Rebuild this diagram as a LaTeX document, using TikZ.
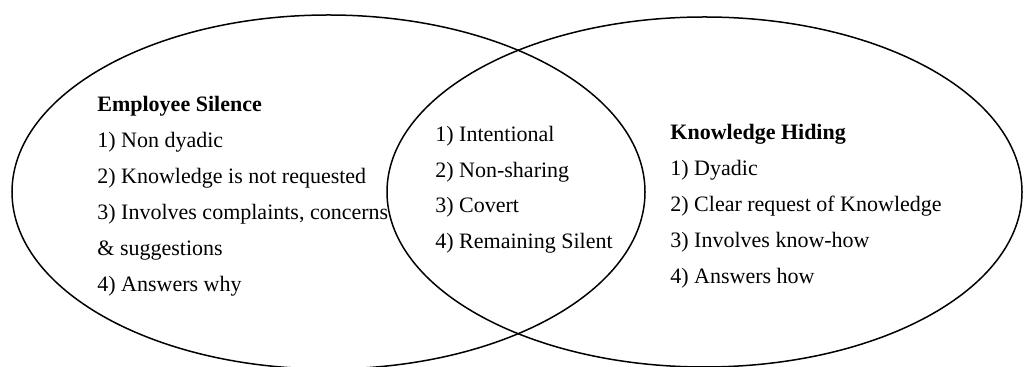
\documentclass[tikz,border=0pt]{standalone}
\usepackage{fontspec}
\setmainfont{Liberation Serif}
\begin{document}
\begin{tikzpicture}[x=0.5pt,y=-0.5pt,
  txt/.style={anchor=base west,inner sep=0pt,font=\fontsize{11}{13}\selectfont},
  hd/.style={txt,font=\fontsize{11}{13}\selectfont\bfseries},
  ring/.style={draw=black,line width=0.75pt}]
\useasboundingbox (0,0) rectangle (1033,367);
\draw[ring] (328.5,192) ellipse [x radius=316.5, y radius=177];
\draw[ring] (704.5,192) ellipse [x radius=317.5, y radius=175];
% left block
\node[hd]  (es)  at (97,112) {Employee Silence};
\node[txt] (es1) at (97,148) {1) Non dyadic};
\node[txt] (es2) at (97,184) {2) Knowledge is not requested};
\node[txt] (es3) at (97,220) {3) Involves complaints, concerns};
\node[txt] (es3b) at (97,256) {\& suggestions};
\node[txt] (es4) at (97,292) {4) Answers why};
% middle block
\node[txt] (m1) at (435,142) {1) Intentional};
\node[txt] (m2) at (435,177.5) {2) Non-sharing};
\node[txt] (m3) at (435,213) {3) Covert};
\node[txt] (m4) at (435,248.5) {4) Remaining Silent};
% right block
\node[hd]  (kh)  at (670,140) {Knowledge Hiding};
\node[txt] (kh1) at (670,176) {1) Dyadic};
\node[txt] (kh2) at (670,212) {2) Clear request of Knowledge};
\node[txt] (kh3) at (670,248) {3) Involves know-how};
\node[txt] (kh4) at (670,284) {4) Answers how};
\end{tikzpicture}
\end{document}
